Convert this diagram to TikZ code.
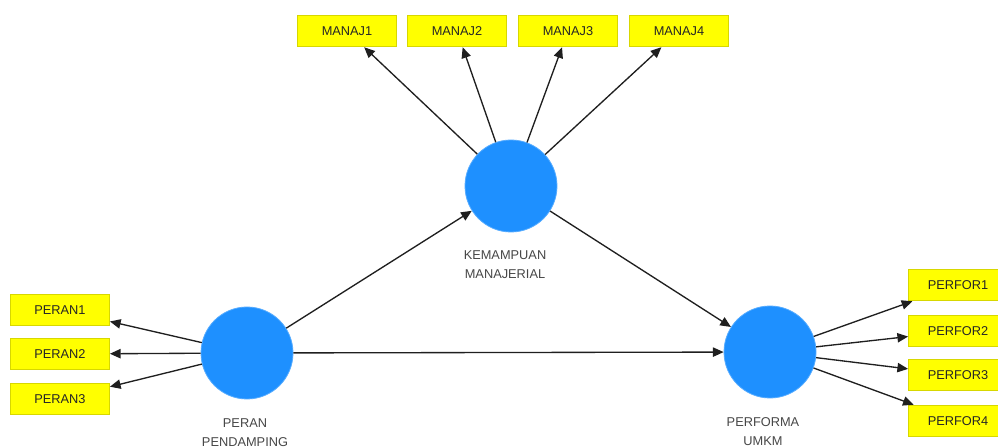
\documentclass[tikz,border=0pt]{standalone}
\usepackage{fontspec}
\setmainfont{Liberation Sans}
\usetikzlibrary{arrows.meta}
\definecolor{boxyellow}{RGB}{255,255,0}
\definecolor{boxedge}{RGB}{215,215,0}
\definecolor{lv}{RGB}{30,144,255}
\begin{document}
\begin{tikzpicture}[x=0.75pt,y=-0.75pt,
  ind/.style={draw=boxedge, fill=boxyellow, line width=0.9pt, minimum width=74pt, minimum height=23.5pt, inner sep=0pt, font=\fontsize{9.6}{10}\selectfont, text=black!85},
  lat/.style={circle, fill=lv, draw=lv!75!white, line width=0.6pt, minimum size=69pt, inner sep=0pt},
  lab/.style={align=center, font=\fontsize{9.6}{14.2}\selectfont, text=black!72},
  arr/.style={-{Triangle[length=8pt,width=7pt]}, line width=1pt, draw=black!88}]
\clip (0,0) rectangle (998,448);
\fill[white] (0,0) rectangle (998,448);
% latent variables
\node[lat] (K) at (511,186) {};
\node[lat] (P) at (247,353) {};
\node[lat] (F) at (770,352) {};
\node[lab] (KL) at (505,265) {KEMAMPUAN\\MANAJERIAL};
\node[lab] (PL) at (245,433) {PERAN\\PENDAMPING};
\node[lab] (FL) at (763,432) {PERFORMA\\UMKM};
% indicators
\node[ind] (M1) at (347,31) {MANAJ1};
\node[ind] (M2) at (457,31) {MANAJ2};
\node[ind] (M3) at (568,31) {MANAJ3};
\node[ind] (M4) at (679,31) {MANAJ4};
\node[ind] (R1) at (60,310) {PERAN1};
\node[ind] (R2) at (60,354) {PERAN2};
\node[ind] (R3) at (60,399) {PERAN3};
\node[ind] (Q1) at (958,285) {PERFOR1};
\node[ind] (Q2) at (958,331) {PERFOR2};
\node[ind] (Q3) at (958,375) {PERFOR3};
\node[ind] (Q4) at (958,421) {PERFOR4};
% connectors
\foreach \m in {M1,M2,M3,M4} \draw[arr] (K) -- (\m);
\foreach \r in {R1,R2,R3} \draw[arr] (P) -- (\r);
\foreach \q in {Q1,Q2,Q3,Q4} \draw[arr] (F) -- (\q);
\draw[arr] (P) -- (K);
\draw[arr] (P) -- (F);
\draw[arr] (K) -- (F);
\end{tikzpicture}
\end{document}
